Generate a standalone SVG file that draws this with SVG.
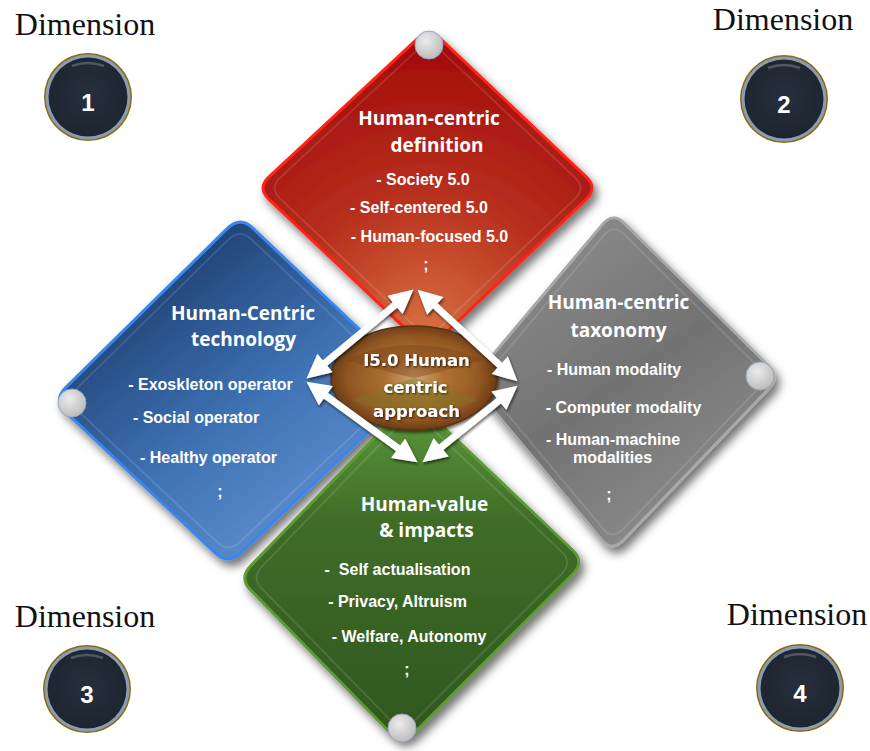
<svg xmlns="http://www.w3.org/2000/svg" width="870" height="751" viewBox="0 0 870 751">
<defs>
<filter id="sh" x="-20%" y="-20%" width="140%" height="140%"><feDropShadow dx="4" dy="6" stdDeviation="5" flood-color="#000" flood-opacity="0.55"/></filter>
<filter id="sh2" x="-20%" y="-20%" width="140%" height="140%"><feDropShadow dx="1" dy="2" stdDeviation="1.5" flood-color="#000" flood-opacity="0.6"/></filter>
<filter id="tsh" x="-10%" y="-30%" width="120%" height="160%"><feDropShadow dx="1" dy="1" stdDeviation="0.8" flood-color="#000" flood-opacity="0.7"/></filter>
<radialGradient id="gRed" cx="428" cy="330" r="300" gradientUnits="userSpaceOnUse"><stop offset="0" stop-color="#d6703f"/><stop offset="0.45" stop-color="#b8301e"/><stop offset="1" stop-color="#a00808"/></radialGradient>
<linearGradient id="gBlue" x1="120" y1="260" x2="330" y2="540" gradientUnits="userSpaceOnUse"><stop offset="0" stop-color="#1b3a6a"/><stop offset="0.55" stop-color="#3e72b4"/><stop offset="1" stop-color="#6192d2"/></linearGradient>
<linearGradient id="gGray" x1="520" y1="260" x2="700" y2="520" gradientUnits="userSpaceOnUse"><stop offset="0" stop-color="#8a8a8a"/><stop offset="0.5" stop-color="#727272"/><stop offset="1" stop-color="#8c8c8c"/></linearGradient>
<linearGradient id="gGreen" x1="0" y1="400" x2="0" y2="745" gradientUnits="userSpaceOnUse"><stop offset="0" stop-color="#5e9a3c"/><stop offset="0.35" stop-color="#3f6d28"/><stop offset="1" stop-color="#2f561e"/></linearGradient>
<radialGradient id="gCen" cx="0.5" cy="0.5" r="0.5"><stop offset="0" stop-color="#d0a878"/><stop offset="0.35" stop-color="#b0702f"/><stop offset="0.8" stop-color="#94561f"/><stop offset="1" stop-color="#6e3c14"/></radialGradient>
<radialGradient id="gKnob" cx="0.4" cy="0.35" r="0.7"><stop offset="0" stop-color="#ececec"/><stop offset="1" stop-color="#b9b9b9"/></radialGradient>
<radialGradient id="gDim" cx="0.5" cy="0.45" r="0.55"><stop offset="0" stop-color="#262f3c"/><stop offset="1" stop-color="#1d2530"/></radialGradient>
<marker id="ah" markerUnits="userSpaceOnUse" viewBox="0 0 10 10" markerWidth="26" markerHeight="24" refX="7" refY="5" orient="auto-start-reverse"><path d="M0,0 L10,5 L0,10 z" fill="#fff"/></marker>
<style>
.dia{stroke-width:3}
.rim{fill:none;stroke:#fff;stroke-opacity:0.12;stroke-width:2}
.ttl{font-family:"Open Sans","Liberation Sans",sans-serif;font-weight:bold;font-size:19px;fill:#fff;text-anchor:middle}
.itm{font-family:"Liberation Sans",Arial,sans-serif;font-weight:bold;font-size:16px;fill:#fff;text-anchor:middle}
.cen{font-family:"DejaVu Sans",Verdana,sans-serif;font-weight:bold;font-size:16.5px;fill:#fff;text-anchor:middle}
.dimt{font-family:"Liberation Serif","Times New Roman",serif;font-size:32px;fill:#111;text-anchor:middle}
.num{font-family:"Liberation Sans",Arial,sans-serif;font-weight:bold;font-size:24px;fill:#fff;text-anchor:middle}
.knob{fill:url(#gKnob);stroke:#9aa8c4;stroke-width:1}
.arr{stroke:#fff;stroke-width:7;fill:none;marker-start:url(#ah);marker-end:url(#ah)}
.shine{stroke:#fff;stroke-opacity:0.22;stroke-width:2.5;fill:none}
</style>
</defs>
<rect width="870" height="751" fill="#fff"/>

<g id="dimensions">
<g id="dim1">
<text class="dimt" x="85" y="35">Dimension</text>
<circle cx="88" cy="97" r="44" fill="#8a6a12"/>
<circle cx="88" cy="97" r="42.5" fill="#8c9db3"/>
<circle cx="88" cy="97" r="39.5" fill="url(#gDim)"/>
<path class="shine" d="M72,66 Q88,60 104,66"/>
<text class="num" x="88" y="111">1</text>
</g>
<g id="dim2">
<text class="dimt" x="783" y="30">Dimension</text>
<circle cx="784" cy="99" r="44" fill="#8a6a12"/>
<circle cx="784" cy="99" r="42.5" fill="#8c9db3"/>
<circle cx="784" cy="99" r="39.5" fill="url(#gDim)"/>
<path class="shine" d="M768,68 Q784,62 800,68"/>
<text class="num" x="784" y="113">2</text>
</g>
<g id="dim3">
<text class="dimt" x="85" y="627">Dimension</text>
<circle cx="87" cy="689" r="44" fill="#8a6a12"/>
<circle cx="87" cy="689" r="42.5" fill="#8c9db3"/>
<circle cx="87" cy="689" r="39.5" fill="url(#gDim)"/>
<path class="shine" d="M71,658 Q87,652 103,658"/>
<text class="num" x="87" y="703">3</text>
</g>
<g id="dim4">
<text class="dimt" x="797" y="625">Dimension</text>
<circle cx="800" cy="688" r="44" fill="#8a6a12"/>
<circle cx="800" cy="688" r="42.5" fill="#8c9db3"/>
<circle cx="800" cy="688" r="39.5" fill="url(#gDim)"/>
<path class="shine" d="M784,657 Q800,651 816,657"/>
<text class="num" x="800" y="702">4</text>
</g>
</g>

<g id="red">
<path class="dia" filter="url(#sh)" fill="url(#gRed)" stroke="#ff2418" d="M440.8,39.2 L586.2,176.8 Q598,188 586.1,199.3 L439.9,338.7 Q428,350 416,338.7 L269,199.3 Q257,188 269,176.8 L417,39.2 Q429,28 440.8,39.2 Z"/>
<path class="rim" transform="translate(428 189) scale(0.93) translate(-428 -189)" d="M440.8,39.2 L586.2,176.8 Q598,188 586.1,199.3 L439.9,338.7 Q428,350 416,338.7 L269,199.3 Q257,188 269,176.8 L417,39.2 Q429,28 440.8,39.2 Z"/>
<circle class="knob" cx="429" cy="45" r="14"/>
<text class="ttl" x="429" y="125">Human-centric</text>
<text class="ttl" x="437" y="152">definition</text>
<text class="itm" x="423" y="185">- Society 5.0</text>
<text class="itm" x="419" y="213">- Self-centered 5.0</text>
<text class="itm" x="429.5" y="242">- Human-focused 5.0</text>
<text class="itm" x="426" y="270">;</text>
</g>

<g id="blue">
<path class="dia" filter="url(#sh)" fill="url(#gBlue)" stroke="#3a86ea" d="M252.5,227.8 L405.5,373.2 Q418,385 404.7,397.6 L241.3,552.4 Q228,565 215.8,553.5 L65.3,411.6 Q53,400 66.1,387.1 L226.9,228.9 Q240,216 252.5,227.8 Z"/>
<path class="rim" transform="translate(236 391) scale(0.93) translate(-236 -391)" d="M252.5,227.8 L405.5,373.2 Q418,385 404.7,397.6 L241.3,552.4 Q228,565 215.8,553.5 L65.3,411.6 Q53,400 66.1,387.1 L226.9,228.9 Q240,216 252.5,227.8 Z"/>
<circle class="knob" cx="72" cy="403" r="14"/>
<text class="ttl" x="243" y="320">Human-Centric</text>
<text class="ttl" x="243.5" y="346">technology</text>
<text class="itm" x="210.5" y="390">- Exoskleton operator</text>
<text class="itm" x="196" y="423">- Social operator</text>
<text class="itm" x="208.5" y="463">- Healthy operator</text>
<text class="itm" x="220" y="497">;</text>
</g>

<g id="gray">
<path class="dia" filter="url(#sh)" fill="url(#gGray)" stroke="#a8a8a8" d="M624.7,223.6 L768.3,365.5 Q780,377 768.2,389.3 L623.8,539.8 Q612,552 602.1,540.1 L479.9,393.9 Q470,382 480,370.1 L603,223.9 Q613,212 624.7,223.6 Z"/>
<path class="rim" transform="translate(620 382) scale(0.93) translate(-620 -382)" d="M624.7,223.6 L768.3,365.5 Q780,377 768.2,389.3 L623.8,539.8 Q612,552 602.1,540.1 L479.9,393.9 Q470,382 480,370.1 L603,223.9 Q613,212 624.7,223.6 Z"/>
<circle class="knob" cx="760" cy="376" r="14"/>
<text class="ttl" x="618.5" y="309">Human-centric</text>
<text class="ttl" x="618.5" y="337">taxonomy</text>
<text class="itm" x="614" y="375">- Human modality</text>
<text class="itm" x="623.5" y="413">- Computer modality</text>
<text class="itm" x="613" y="445">- Human-machine</text>
<text class="itm" x="612.5" y="463">modalities</text>
<text class="itm" x="609" y="500">;</text>
</g>

<g id="green">
<path class="dia" filter="url(#sh)" fill="url(#gGreen)" stroke="#5e9a36" d="M425,409.5 L573,550.5 Q585,562 572.2,574.8 L414.8,732.2 Q402,745 390.6,733.3 L250.4,589.7 Q239,578 251.2,565.4 L400.8,410.6 Q413,398 425,409.5 Z"/>
<path class="rim" transform="translate(412 571) scale(0.93) translate(-412 -571)" d="M425,409.5 L573,550.5 Q585,562 572.2,574.8 L414.8,732.2 Q402,745 390.6,733.3 L250.4,589.7 Q239,578 251.2,565.4 L400.8,410.6 Q413,398 425,409.5 Z"/>
<circle class="knob" cx="402" cy="728" r="14"/>
<text class="ttl" x="424.5" y="511">Human-value</text>
<text class="ttl" x="426.5" y="537">&amp; impacts</text>
<text class="itm" x="397.5" y="575" xml:space="preserve">-  Self actualisation</text>
<text class="itm" x="397.5" y="607">- Privacy, Altruism</text>
<text class="itm" x="409" y="642">- Welfare, Autonomy</text>
<text class="itm" x="407" y="675">;</text>
</g>

<g id="center">
<ellipse cx="414" cy="378" rx="83" ry="52" fill="url(#gCen)" fill-opacity="0.95" stroke="#5a3212" stroke-width="1.5" filter="url(#sh2)"/>
<path d="M345,360 Q414,330 483,360 Q440,372 414,378 Q388,372 345,360 Z" fill="#7a4016" fill-opacity="0.4"/>
<path d="M350,400 Q414,425 478,400 Q440,386 414,378 Q388,386 350,400 Z" fill="#7a7a26" fill-opacity="0.4"/>
<g filter="url(#tsh)">
<text class="cen" x="416.5" y="366">I5.0 Human</text>
<text class="cen" x="415.5" y="393">centric</text>
<text class="cen" x="416.5" y="417">approach</text>
</g>
</g>

<g id="connectors" filter="url(#sh2)">
<line class="arr" x1="312.1" y1="373.8" x2="407.9" y2="294.2"/>
<line class="arr" x1="422.9" y1="294.5" x2="512.1" y2="376.5"/>
<line class="arr" x1="312.3" y1="385.9" x2="411.7" y2="458.1"/>
<line class="arr" x1="511.9" y1="390.2" x2="428.1" y2="457.8"/>
</g>
</svg>
